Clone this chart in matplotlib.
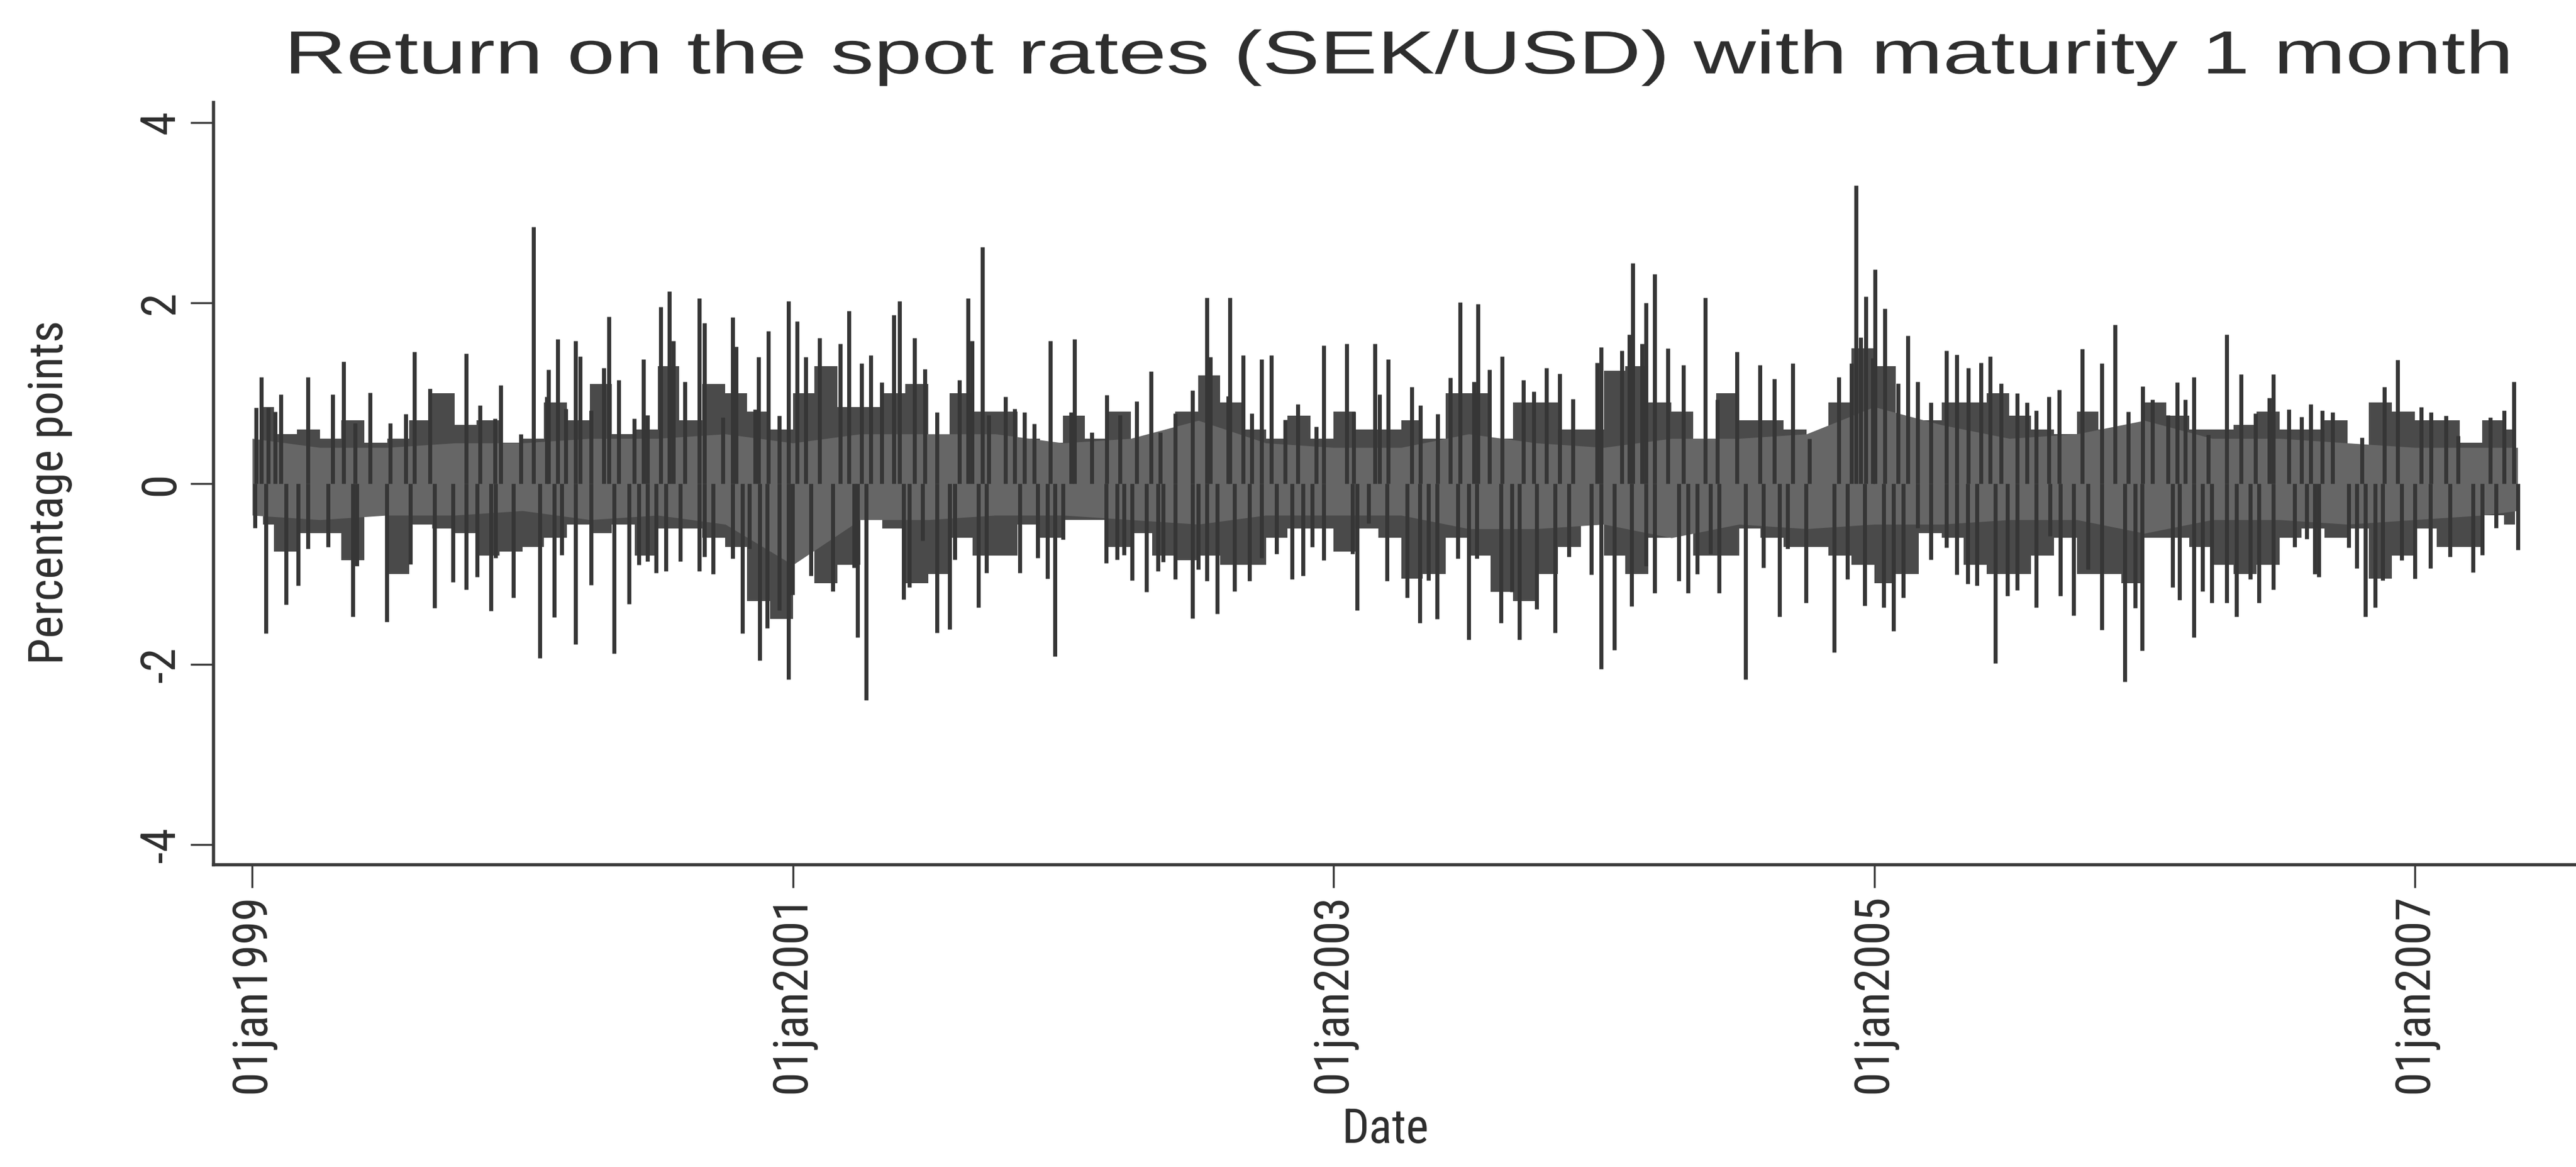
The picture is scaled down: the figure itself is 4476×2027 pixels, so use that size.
import matplotlib
matplotlib.use("Agg")
import matplotlib.pyplot as plt
from matplotlib import font_manager
from matplotlib.font_manager import FontProperties
from matplotlib.patheffects import AbstractPathEffect
from matplotlib.transforms import Affine2D

# ---------------------------------------------------------------- data
# Daily returns (percentage points) of the SEK/USD 1-month spot rate.
# Dates are decimal years. The dense core of the series is kept as a
# quarterly band, the darker monthly clusters as a monthly envelope, and
# the individual large moves as spikes.
band_dates = [1999.00, 1999.25, 1999.50, 1999.75, 2000.00, 2000.25, 2000.50,
              2000.75, 2001.00, 2001.25, 2001.50, 2001.75, 2002.00, 2002.25,
              2002.50, 2002.75, 2003.00, 2003.25, 2003.50, 2003.75, 2004.00,
              2004.25, 2004.50, 2004.75, 2005.00, 2005.25, 2005.50, 2005.75,
              2006.00, 2006.25, 2006.50, 2006.75, 2007.00, 2007.25, 2007.38]
band_upper = [0.50, 0.40, 0.40, 0.45, 0.45, 0.50, 0.50, 0.55, 0.45, 0.55,
              0.55, 0.55, 0.45, 0.50, 0.70, 0.45, 0.40, 0.40, 0.55, 0.45,
              0.40, 0.50, 0.50, 0.55, 0.85, 0.65, 0.50, 0.55, 0.70, 0.50,
              0.50, 0.45, 0.40, 0.40, 0.40]
band_lower = [-0.35, -0.40, -0.35, -0.35, -0.30, -0.40, -0.35, -0.45, -0.90,
              -0.40, -0.40, -0.35, -0.35, -0.40, -0.45, -0.35, -0.35, -0.35,
              -0.50, -0.50, -0.45, -0.60, -0.45, -0.50, -0.45, -0.45, -0.40,
              -0.40, -0.55, -0.40, -0.40, -0.45, -0.40, -0.35, -0.30]

month_dates = [1999.04, 1999.12, 1999.21, 1999.29, 1999.37, 1999.46, 1999.54,
               1999.62, 1999.71, 1999.79, 1999.87, 1999.96, 2000.04, 2000.12,
               2000.21, 2000.29, 2000.37, 2000.46, 2000.54, 2000.62, 2000.71,
               2000.79, 2000.87, 2000.96, 2001.04, 2001.12, 2001.21, 2001.29,
               2001.37, 2001.46, 2001.54, 2001.62, 2001.71, 2001.79, 2001.87,
               2001.96, 2002.04, 2002.12, 2002.21, 2002.29, 2002.37, 2002.46,
               2002.54, 2002.62, 2002.71, 2002.79, 2002.87, 2002.96, 2003.04,
               2003.12, 2003.21, 2003.29, 2003.37, 2003.46, 2003.54, 2003.62,
               2003.71, 2003.79, 2003.87, 2003.96, 2004.04, 2004.12, 2004.21,
               2004.29, 2004.37, 2004.46, 2004.54, 2004.62, 2004.71, 2004.79,
               2004.87, 2004.96, 2005.04, 2005.12, 2005.21, 2005.29, 2005.37,
               2005.46, 2005.54, 2005.62, 2005.71, 2005.79, 2005.87, 2005.96,
               2006.04, 2006.12, 2006.21, 2006.29, 2006.37, 2006.46, 2006.54,
               2006.62, 2006.71, 2006.79, 2006.87, 2006.96, 2007.04, 2007.12,
               2007.21, 2007.29, 2007.37]
month_upper = [0.85, 0.55, 0.60, 0.50, 0.70, 0.45, 0.50, 0.70, 1.00, 0.65,
               0.70, 0.45, 0.50, 0.90, 0.70, 1.10, 0.55, 0.60, 1.30, 0.70,
               1.10, 1.00, 0.80, 0.60, 1.00, 1.30, 0.85, 0.85, 1.00, 1.10,
               0.50, 1.00, 0.80, 0.80, 0.50, 0.45, 0.75, 0.50, 0.80, 0.50,
               0.40, 0.80, 1.20, 0.90, 0.60, 0.50, 0.75, 0.50, 0.80, 0.60,
               0.60, 0.70, 0.50, 1.00, 1.00, 0.50, 0.90, 0.90, 0.60, 0.60,
               1.25, 1.30, 0.90, 0.80, 0.50, 1.00, 0.70, 0.70, 0.60, 0.45,
               0.90, 1.50, 1.30, 0.70, 0.70, 0.90, 0.90, 1.00, 0.75, 0.60,
               0.55, 0.80, 0.60, 0.60, 0.90, 0.75, 0.60, 0.60, 0.65, 0.80,
               0.60, 0.60, 0.70, 0.40, 0.90, 0.80, 0.70, 0.70, 0.45, 0.70,
               0.60]
month_lower = [-0.45, -0.75, -0.55, -0.55, -0.85, -0.30, -1.00, -0.45, -0.50,
               -0.55, -0.80, -0.75, -0.70, -0.60, -0.45, -0.55, -0.45, -0.80,
               -0.50, -0.50, -0.60, -0.70, -1.30, -1.50, -0.60, -1.10, -0.90,
               -0.40, -0.50, -1.10, -1.00, -0.60, -0.80, -0.80, -0.45, -0.60,
               -0.40, -0.40, -0.70, -0.55, -0.80, -0.85, -0.80, -0.90, -0.90,
               -0.60, -0.50, -0.50, -0.75, -0.50, -0.60, -1.05, -1.00, -0.60,
               -0.80, -1.20, -1.30, -1.00, -0.70, -0.45, -0.80, -1.00, -0.60,
               -0.55, -0.80, -0.80, -0.50, -0.60, -0.70, -0.70, -0.80, -0.90,
               -1.10, -1.00, -0.55, -0.60, -0.90, -1.00, -1.00, -0.80, -0.60,
               -1.00, -1.00, -1.10, -0.60, -0.60, -0.70, -0.90, -1.00, -0.90,
               -0.60, -0.50, -0.60, -0.50, -1.05, -0.80, -0.50, -0.70, -0.70,
               -0.35, -0.45]

up_dates = [1999.015, 1999.033, 1999.060, 1999.085, 1999.107, 1999.206, 1999.298,
            1999.338, 1999.380, 1999.437, 1999.511, 1999.568, 1999.600, 1999.657,
            1999.792, 1999.842, 1999.898, 1999.920, 1999.994, 2000.040, 2000.090,
            2000.097, 2000.129, 2000.160, 2000.196, 2000.214, 2000.253, 2000.300,
            2000.320, 2000.356, 2000.413, 2000.448, 2000.462, 2000.512, 2000.544,
            2000.558, 2000.601, 2000.654, 2000.672, 2000.740, 2000.778, 2000.790,
            2000.860, 2000.874, 2000.910, 2000.949, 2000.984, 2001.016, 2001.048,
            2001.098, 2001.176, 2001.208, 2001.254, 2001.289, 2001.328, 2001.374,
            2001.395, 2001.449, 2001.488, 2001.534, 2001.616, 2001.647, 2001.663,
            2001.701, 2001.725, 2001.786, 2001.820, 2001.857, 2001.892, 2001.953,
            2002.030, 2002.041, 2002.105, 2002.162, 2002.210, 2002.272, 2002.325,
            2002.360, 2002.414, 2002.478, 2002.532, 2002.545, 2002.610, 2002.616,
            2002.666, 2002.698, 2002.733, 2002.769, 2002.820, 2002.868, 2002.936,
            2002.964, 2003.049, 2003.075, 2003.152, 2003.170, 2003.201, 2003.290,
            2003.322, 2003.386, 2003.432, 2003.468, 2003.520, 2003.535, 2003.577,
            2003.623, 2003.702, 2003.740, 2003.787, 2003.837, 2003.886, 2003.975,
            2003.989, 2004.067, 2004.095, 2004.106, 2004.140, 2004.156, 2004.188,
            2004.237, 2004.294, 2004.376, 2004.420, 2004.493, 2004.578, 2004.630,
            2004.699, 2004.760, 2004.869, 2004.915, 2004.933, 2004.950, 2004.968,
            2004.995, 2005.004, 2005.039, 2005.089, 2005.124, 2005.160, 2005.210,
            2005.267, 2005.306, 2005.348, 2005.394, 2005.429, 2005.469, 2005.529,
            2005.565, 2005.600, 2005.646, 2005.685, 2005.770, 2005.841, 2005.891,
            2005.940, 2005.994, 2006.030, 2006.087, 2006.121, 2006.150, 2006.182,
            2006.235, 2006.303, 2006.356, 2006.410, 2006.462, 2006.476, 2006.533,
            2006.580, 2006.615, 2006.657, 2006.696, 2006.803, 2006.888, 2006.937,
            2007.023, 2007.060, 2007.115, 2007.160, 2007.278, 2007.330, 2007.367]
up_values = [0.84, 1.18, 0.84, 0.80, 0.99, 1.18, 0.99, 1.35, 0.67, 1.01, 0.67,
             0.77, 1.46, 1.05, 1.44, 0.87, 0.72, 1.09, 0.55, 2.84, 0.96, 1.26,
             1.60, 0.83, 1.58, 1.41, 0.81, 1.28, 1.85, 1.15, 0.72, 1.38, 0.76,
             1.96, 2.13, 1.58, 1.13, 2.05, 1.78, 0.73, 1.84, 1.52, 0.82, 1.40,
             1.69, 0.75, 2.02, 1.80, 1.40, 1.61, 1.55, 1.91, 1.33, 1.42, 1.12,
             1.87, 2.02, 1.61, 1.27, 0.79, 1.15, 2.05, 1.58, 2.62, 0.76, 0.96,
             0.83, 0.79, 0.66, 1.58, 0.79, 1.60, 0.57, 0.98, 0.76, 0.91, 1.24,
             0.57, 0.78, 1.03, 2.06, 1.40, 0.97, 2.06, 1.42, 0.78, 1.38, 1.42,
             0.71, 0.88, 0.63, 1.53, 1.55, 0.80, 1.55, 0.99, 1.38, 1.07, 0.87,
             0.77, 1.17, 2.01, 1.13, 1.99, 1.26, 1.41, 1.15, 1.02, 1.28, 1.22,
             0.94, 1.34, 1.51, 1.47, 1.65, 2.44, 1.55, 2.00, 2.32, 1.50, 1.31,
             2.06, 0.93, 1.46, 1.31, 1.16, 1.33, 0.50, 1.18, 1.33, 3.30, 1.62,
             2.07, 1.39, 2.37, 1.94, 1.11, 1.64, 1.13, 0.90, 1.47, 1.43, 1.28,
             1.34, 1.41, 1.11, 1.00, 0.90, 0.81, 0.96, 1.04, 1.49, 1.33, 1.76,
             0.80, 1.08, 0.93, 0.76, 1.12, 0.93, 1.18, 0.54, 1.65, 1.21, 0.78,
             0.95, 1.21, 0.82, 0.74, 0.88, 0.81, 0.79, 0.51, 1.07, 1.37, 0.85,
             0.79, 0.75, 0.53, 0.73, 0.81, 1.13]

down_dates = [1999.011, 1999.050, 1999.125, 1999.171, 1999.206, 1999.281, 1999.373,
              1999.388, 1999.497, 1999.586, 1999.675, 1999.742, 1999.792, 1999.831,
              1999.884, 1999.900, 1999.966, 2000.065, 2000.118, 2000.146, 2000.196,
              2000.253, 2000.338, 2000.395, 2000.430, 2000.462, 2000.494, 2000.530,
              2000.583, 2000.654, 2000.672, 2000.704, 2000.778, 2000.814, 2000.840,
              2000.878, 2000.906, 2000.949, 2000.984, 2000.998, 2001.066, 2001.147,
              2001.226, 2001.240, 2001.271, 2001.410, 2001.430, 2001.480, 2001.534,
              2001.580, 2001.600, 2001.687, 2001.717, 2001.839, 2001.906, 2001.942,
              2001.970, 2002.000, 2002.158, 2002.200, 2002.225, 2002.254, 2002.307,
              2002.350, 2002.370, 2002.414, 2002.478, 2002.500, 2002.532, 2002.570,
              2002.634, 2002.690, 2002.733, 2002.790, 2002.847, 2002.886, 2002.920,
              2002.964, 2003.070, 2003.088, 2003.130, 2003.198, 2003.273, 2003.319,
              2003.350, 2003.383, 2003.460, 2003.500, 2003.530, 2003.620, 2003.660,
              2003.688, 2003.752, 2003.819, 2003.870, 2003.954, 2003.989, 2004.039,
              2004.103, 2004.156, 2004.188, 2004.277, 2004.312, 2004.345, 2004.395,
              2004.426, 2004.525, 2004.590, 2004.649, 2004.680, 2004.748, 2004.852,
              2004.900, 2004.964, 2005.036, 2005.071, 2005.108, 2005.160, 2005.210,
              2005.267, 2005.306, 2005.345, 2005.380, 2005.447, 2005.493, 2005.529,
              2005.600, 2005.650, 2005.689, 2005.738, 2005.790, 2005.841, 2005.926,
              2005.965, 2005.990, 2006.104, 2006.130, 2006.182, 2006.215, 2006.249,
              2006.303, 2006.341, 2006.390, 2006.423, 2006.476, 2006.555, 2006.600,
              2006.630, 2006.645, 2006.755, 2006.785, 2006.817, 2006.852, 2006.880,
              2006.950, 2007.000, 2007.058, 2007.130, 2007.214, 2007.250, 2007.300,
              2007.381]
down_values = [-0.49, -1.66, -1.34, -1.13, -0.72, -0.70, -1.47, -0.91, -1.53,
               -0.89, -1.38, -1.09, -1.17, -1.03, -1.41, -0.82, -1.26, -1.93,
               -1.48, -0.79, -1.78, -1.12, -1.88, -1.33, -0.90, -0.86, -0.99,
               -0.97, -0.86, -0.97, -0.81, -1.00, -0.83, -1.66, -0.72, -1.96,
               -1.60, -1.40, -2.17, -1.23, -1.02, -1.19, -0.93, -1.70, -2.40,
               -1.28, -1.15, -0.63, -1.65, -1.61, -0.84, -1.37, -0.99, -0.99,
               -0.82, -1.05, -1.91, -0.62, -0.88, -0.84, -0.79, -1.07, -1.20,
               -0.97, -0.87, -1.06, -1.49, -0.95, -1.08, -1.44, -1.19, -1.08,
               -0.82, -0.78, -1.06, -1.02, -0.70, -0.85, -0.78, -1.40, -0.44,
               -1.08, -1.26, -1.54, -1.07, -1.50, -0.83, -1.73, -0.83, -1.54,
               -1.20, -1.73, -1.39, -1.65, -0.81, -1.01, -2.05, -1.84, -1.36,
               -0.91, -1.21, -1.08, -1.21, -1.00, -0.78, -1.21, -2.17, -0.93,
               -1.47, -0.72, -1.32, -1.87, -1.06, -1.35, -1.37, -1.63, -1.26,
               -0.49, -0.84, -0.71, -1.01, -1.11, -1.13, -1.99, -1.24, -1.18,
               -1.37, -0.58, -1.24, -1.46, -0.95, -1.62, -2.19, -1.38, -1.85,
               -1.15, -1.29, -1.70, -1.19, -1.32, -1.32, -1.47, -1.06, -1.32,
               -1.17, -0.70, -0.61, -1.00, -1.03, -0.71, -0.94, -1.47, -1.37,
               -1.07, -0.85, -1.05, -0.94, -0.81, -0.98, -0.79, -0.49, -0.73]

y_ticks = [-4, -2, 0, 2, 4]
y_tick_labels = ["-4", "-2", "0", "2", "4"]
x_ticks = [1999, 2001, 2003, 2005, 2007]
x_tick_labels = ["01jan1999", "01jan2001", "01jan2003", "01jan2005", "01jan2007"]

title_text = "Return on the spot rates (SEK/USD) with maturity 1 month"
x_title = "Date"
y_title = "Percentage points"

# ---------------------------------------------------------------- fonts
installed = {f.name for f in font_manager.fontManager.ttflist}
axis_font = {"family": "DejaVu Sans", "fontsize": 47}
for name, size in (("Liberation Sans Narrow", 66), ("Roboto Condensed", 60),
                   ("Open Sans Condensed", 60)):
    if name in installed:
        axis_font = {"family": name, "fontsize": size}
        break
else:
    cond = FontProperties(family="DejaVu Sans", stretch="condensed")
    if "Condensed" in font_manager.findfont(cond, fallback_to_default=True):
        axis_font = {"family": "DejaVu Sans", "fontstretch": "condensed",
                     "fontsize": 57}
wide = "Liberation Sans" if "Liberation Sans" in installed else "DejaVu Sans"


class HStretch(AbstractPathEffect):
    """Widen glyph outlines horizontally about a fixed pixel column."""

    def __init__(self, factor, cx):
        super().__init__()
        self.factor = factor
        self.cx = cx

    def draw_path(self, renderer, gc, tpath, affine, rgbFace=None):
        stretch = Affine2D().translate(-self.cx, 0).scale(self.factor, 1).translate(self.cx, 0)
        renderer.draw_path(gc, tpath, affine + stretch, rgbFace)


# ---------------------------------------------------------------- figure
W, H, DPI = 4476, 2027, 100
ink = "#2e2e2e"
fig = plt.figure(figsize=(W / DPI, H / DPI), dpi=DPI, facecolor="white")
ax = fig.add_axes([371 / W, 1 - 1502 / H, 1 - 371 / W, (1502 - 178) / H])
ax.set_facecolor("white")

ax.fill_between(month_dates, month_lower, month_upper, step="mid",
                color="#4a4a4a", lw=0, zorder=2)
ax.fill_between(band_dates, band_lower, band_upper, color="#666666", lw=0, zorder=2.5)
ax.vlines(up_dates, 0, up_values, colors="#363636", lw=5, zorder=3)
ax.vlines(down_dates, 0, down_values, colors="#363636", lw=5, zorder=3)

ax.set_xlim(1998.857, 2007.596)
ax.set_ylim(-4.22, 4.22)

for side in ("top", "right"):
    ax.spines[side].set_visible(False)
for side in ("left", "bottom"):
    ax.spines[side].set_linewidth(4)
    ax.spines[side].set_color("#3a3a3a")

ax.set_yticks(y_ticks)
ax.set_yticklabels(y_tick_labels, rotation=90, va="center", color=ink, **axis_font)
ax.set_xticks(x_ticks)
ax.set_xticklabels(x_tick_labels, rotation=90, ha="center", va="top", color=ink,
                   **axis_font)
ax.tick_params(direction="out", length=29, width=2.5, color="#3a3a3a", pad=8)

fig.text(86 / W, 1 - 855 / H, y_title, rotation=90, ha="center", va="center",
         color=ink, **axis_font)
fig.text(2407 / W, 1 - 1962 / H, x_title, ha="center", va="center",
         color=ink, **axis_font)

title_cx = 2430
fig.text(title_cx / W, 1 - 100 / H, title_text, ha="center", va="center",
         family=wide, fontsize=76, color=ink,
         path_effects=[HStretch(1.42, title_cx)])

fig.savefig("out.png", dpi=DPI, facecolor="white")
